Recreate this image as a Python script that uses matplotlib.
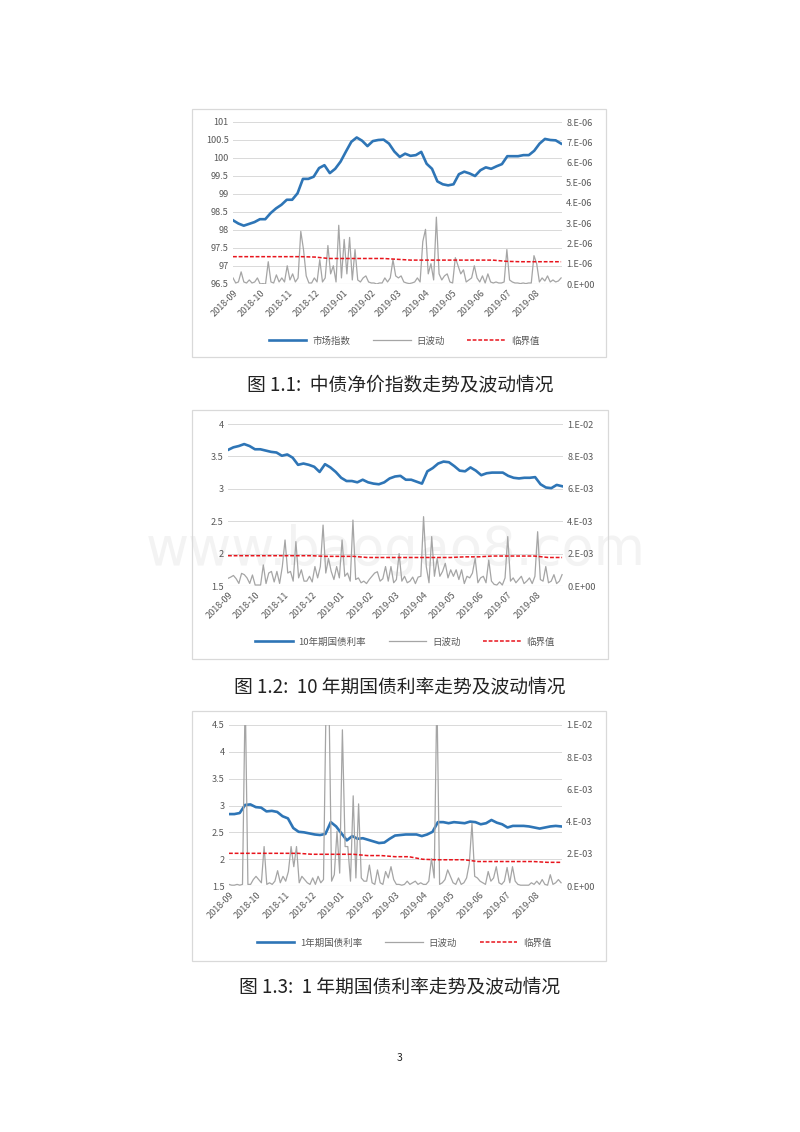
import numpy as np
import pandas as pd
import matplotlib
matplotlib.use("Agg")
import matplotlib.pyplot as plt
from matplotlib.patches import Rectangle

plt.rcParams['font.family'] = ['Noto Sans CJK SC', 'DejaVu Sans']

# ---- data ----
months = pd.date_range('2018-09-01', '2019-08-01', freq='MS')
month_labels = [d.strftime('%Y-%m') for d in months]

# chart 1: 中债净价指数
idx_level = [98.27, 98.18, 98.12, 98.17, 98.22, 98.30, 98.30, 98.47, 98.60, 98.70,
             98.84, 98.84, 99.02, 99.42, 99.42, 99.48, 99.72, 99.80, 99.58, 99.70,
             99.90, 100.18, 100.45, 100.57, 100.48, 100.33, 100.47, 100.50, 100.51, 100.40,
             100.18, 100.03, 100.12, 100.06, 100.08, 100.17, 99.84, 99.70, 99.35, 99.27,
             99.24, 99.27, 99.55, 99.62, 99.57, 99.50, 99.66, 99.74, 99.70, 99.77,
             99.83, 100.05, 100.05, 100.05, 100.08, 100.08, 100.20, 100.40, 100.53, 100.50,
             100.49, 100.40]
idx_vol = [0.3, 0.05, 0.1, 0.6, 0.1, 0.05, 0.2, 0.05, 0.1, 0.3,
           0.0, 0.02, 0.0, 1.1, 0.1, 0.05, 0.45, 0.1, 0.3, 0.1,
           0.9, 0.2, 0.5, 0.1, 0.3, 2.6, 1.7, 0.4, 0.05, 0.05,
           0.3, 0.1, 1.2, 0.1, 0.3, 1.9, 0.5, 0.9, 0.1, 2.9,
           0.3, 2.2, 0.5, 2.3, 0.2, 1.7, 0.2, 0.1, 0.3, 0.4,
           0.1, 0.05, 0.05, 0.0, 0.05, 0.05, 0.3, 0.1, 0.3, 1.2,
           0.4, 0.3, 0.4, 0.1, 0.05, 0.02, 0.05, 0.1, 0.3, 0.1,
           2.1, 2.7, 0.5, 1.0, 0.2, 3.3, 0.5, 0.2, 0.4, 0.5,
           0.1, 0.05, 1.3, 0.9, 0.5, 0.7, 0.1, 0.2, 0.3, 0.9,
           0.3, 0.1, 0.4, 0.05, 0.5, 0.1, 0.05, 0.1, 0.05, 0.05,
           0.1, 1.7, 0.2, 0.1, 0.05, 0.05, 0.02, 0.05, 0.02, 0.05,
           0.05, 1.4, 1.0, 0.1, 0.3, 0.15, 0.4, 0.1, 0.2, 0.1,
           0.15, 0.3]
idx_thr = [1.35, 1.35, 1.35, 1.35, 1.35, 1.35, 1.33, 1.26, 1.26, 1.26,
           1.26, 1.26, 1.22, 1.18, 1.18, 1.18, 1.18, 1.18, 1.18, 1.18,
           1.12, 1.10, 1.10, 1.10, 1.10]

# chart 2: 10年期国债利率
y10_level = [3.60, 3.64, 3.66, 3.69, 3.66, 3.61, 3.61, 3.59, 3.57, 3.56,
             3.51, 3.53, 3.48, 3.37, 3.39, 3.37, 3.34, 3.26, 3.38, 3.33,
             3.26, 3.17, 3.12, 3.12, 3.10, 3.14, 3.10, 3.08, 3.07, 3.10,
             3.16, 3.19, 3.20, 3.14, 3.14, 3.11, 3.08, 3.27, 3.32, 3.39,
             3.42, 3.41, 3.35, 3.28, 3.27, 3.33, 3.28, 3.21, 3.24, 3.25,
             3.25, 3.25, 3.20, 3.17, 3.16, 3.17, 3.17, 3.18, 3.07, 3.02,
             3.01, 3.06, 3.04]
y10_vol = [0.47, 0.55, 0.65, 0.45, 0.16, 0.78, 0.70, 0.50, 0.16, 0.68,
           0.06, 0.06, 0.06, 1.30, 0.15, 0.80, 0.90, 0.25, 0.90, 0.16,
           1.20, 2.84, 0.80, 0.90, 0.30, 2.74, 0.50, 1.00, 0.30, 0.30,
           0.60, 0.25, 1.20, 0.50, 1.20, 3.76, 0.80, 1.70, 0.90, 0.40,
           1.20, 0.50, 2.84, 0.60, 0.80, 0.30, 4.07, 0.40, 0.50, 0.20,
           0.30, 0.15, 0.40, 0.60, 0.80, 0.88, 0.30, 0.45, 1.20, 0.30,
           1.20, 0.20, 0.40, 2.00, 0.30, 0.60, 0.20, 0.30, 0.55, 0.15,
           0.55, 0.60, 4.28, 1.20, 0.20, 3.05, 0.60, 1.70, 0.60, 0.90,
           1.40, 0.50, 1.00, 0.60, 1.00, 0.40, 1.00, 0.15, 0.60, 0.50,
           0.80, 1.70, 0.20, 0.50, 0.60, 0.20, 1.60, 0.30, 0.10, 0.06,
           0.25, 0.06, 0.50, 3.05, 0.30, 0.50, 0.20, 0.40, 0.60, 0.15,
           0.30, 0.50, 0.15, 0.60, 3.35, 0.40, 0.30, 1.20, 0.20, 0.30,
           0.70, 0.15, 0.30, 0.70]
y10_thr = [1.87, 1.87, 1.87, 1.87, 1.87, 1.87, 1.87, 1.83, 1.83, 1.83,
           1.76, 1.76, 1.76, 1.76, 1.76, 1.76, 1.76, 1.80, 1.80, 1.85,
           1.85, 1.85, 1.85, 1.76, 1.76]

# chart 3: 1年期国债利率
y1_level = [2.84, 2.84, 2.86, 3.01, 3.02, 2.97, 2.96, 2.89, 2.90, 2.88,
            2.80, 2.76, 2.58, 2.51, 2.50, 2.48, 2.46, 2.45, 2.47, 2.69,
            2.61, 2.48, 2.35, 2.43, 2.38, 2.39, 2.36, 2.33, 2.30, 2.31,
            2.38, 2.44, 2.45, 2.46, 2.46, 2.46, 2.43, 2.46, 2.51, 2.69,
            2.69, 2.67, 2.69, 2.68, 2.67, 2.70, 2.69, 2.65, 2.67, 2.73,
            2.68, 2.65, 2.59, 2.62, 2.62, 2.62, 2.61, 2.59, 2.57, 2.59,
            2.61, 2.62, 2.61]
y1_vol = [0.1, 0.05, 0.05, 0.1, 0.05, 0.1, 12.0, 0.1, 0.1, 0.4,
          0.6, 0.4, 0.2, 2.45, 0.1, 0.2, 0.1, 0.3, 0.95, 0.2,
          0.6, 0.3, 0.9, 2.45, 1.2, 2.45, 0.2, 0.6, 0.4, 0.2,
          0.1, 0.5, 0.1, 0.6, 0.2, 0.4, 12.0, 12.0, 0.3, 0.7,
          3.4, 0.8, 9.7, 2.45, 2.45, 0.3, 5.6, 0.5, 5.1, 0.5,
          0.3, 0.3, 1.3, 0.2, 0.1, 1.0, 0.2, 0.1, 0.9, 0.5,
          1.2, 0.4, 0.1, 0.1, 0.05, 0.1, 0.3, 0.1, 0.2, 0.3,
          0.1, 0.2, 0.1, 0.1, 0.3, 1.7, 0.5, 12.0, 0.1, 0.2,
          0.4, 1.0, 0.6, 0.2, 0.1, 0.5, 0.1, 0.2, 0.5, 1.4,
          3.9, 0.6, 0.5, 0.3, 0.2, 0.1, 0.9, 0.3, 0.5, 1.2,
          0.2, 0.1, 0.3, 1.15, 0.2, 1.2, 0.3, 0.1, 0.05, 0.05,
          0.05, 0.05, 0.2, 0.1, 0.3, 0.1, 0.4, 0.1, 0.05, 0.7,
          0.1, 0.2, 0.4, 0.2]
y1_thr = [2.03, 2.03, 2.03, 2.03, 2.03, 2.03, 1.97, 1.97, 1.97, 1.97,
          1.89, 1.89, 1.82, 1.82, 1.66, 1.63, 1.63, 1.63, 1.52, 1.52,
          1.52, 1.52, 1.52, 1.47, 1.47]

charts = [
    dict(level=idx_level, vol=idx_vol, thr=idx_thr, vscale=1e-6,
         name='市场指数', ylim=(96.5, 101), yticks=[96.5, 97, 97.5, 98, 98.5, 99, 99.5, 100, 100.5, 101],
         ylabels=['96.5', '97', '97.5', '98', '98.5', '99', '99.5', '100', '100.5', '101'],
         rlim=(0, 8e-6), rticks=[0, 1e-6, 2e-6, 3e-6, 4e-6, 5e-6, 6e-6, 7e-6, 8e-6],
         rlabels=['0.E+00', '1.E-06', '2.E-06', '3.E-06', '4.E-06', '5.E-06', '6.E-06', '7.E-06', '8.E-06'],
         caption='图 1.1:  中债净价指数走势及波动情况'),
    dict(level=y10_level, vol=y10_vol, thr=y10_thr, vscale=1e-3,
         name='10年期国债利率', ylim=(1.5, 4), yticks=[1.5, 2, 2.5, 3, 3.5, 4],
         ylabels=['1.5', '2', '2.5', '3', '3.5', '4'],
         rlim=(0, 1e-2), rticks=[0, 2e-3, 4e-3, 6e-3, 8e-3, 1e-2],
         rlabels=['0.E+00', '2.E-03', '4.E-03', '6.E-03', '8.E-03', '1.E-02'],
         caption='图 1.2:  10 年期国债利率走势及波动情况'),
    dict(level=y1_level, vol=y1_vol, thr=y1_thr, vscale=1e-3,
         name='1年期国债利率', ylim=(1.5, 4.5), yticks=[1.5, 2, 2.5, 3, 3.5, 4, 4.5],
         ylabels=['1.5', '2', '2.5', '3', '3.5', '4', '4.5'],
         rlim=(0, 1e-2), rticks=[0, 2e-3, 4e-3, 6e-3, 8e-3, 1e-2],
         rlabels=['0.E+00', '2.E-03', '4.E-03', '6.E-03', '8.E-03', '1.E-02'],
         caption='图 1.3:  1 年期国债利率走势及波动情况'),
]

W, H = 800, 1132
fig = plt.figure(figsize=(8, 11.32), dpi=100)

# pixel layout: box (l, t, r, b), axes (l, t, r, b), legend y, caption y
layout = [
    ((192, 109, 606, 357), (233, 122, 562, 284), 341, 385),
    ((192, 410, 608, 659), (228, 424, 563, 586), 642, 687),
    ((192, 711, 606, 961), (229, 725, 562, 886), 943, 987),
]

start, end = pd.Timestamp('2018-09-01'), pd.Timestamp('2019-08-29')
xlim = (pd.Timestamp('2018-09-01'), pd.Timestamp('2019-08-30'))
grey_txt = '#595959'
blue = '#2e75b6'
grey = '#a5a5a5'
red = '#e8141c'

for i, (c, (box, axr, leg_y, cap_y)) in enumerate(zip(charts, layout)):
    bl, bt, br, bb = box
    fig.patches.append(Rectangle((bl / W, 1 - bb / H), (br - bl) / W, (bb - bt) / H,
                                 transform=fig.transFigure, fill=False,
                                 edgecolor='#d9d9d9', linewidth=0.9))
    al, at, ar, ab = axr
    ax = fig.add_axes([al / W, 1 - ab / H, (ar - al) / W, (ab - at) / H])
    ax2 = ax.twinx()

    d_level = pd.date_range(start, end, periods=len(c['level']))
    d_vol = pd.date_range(start, end, periods=len(c['vol']))
    d_thr = pd.date_range(start, end, periods=len(c['thr']))

    vol = np.array(c['vol']) * c['vscale']
    thr = np.array(c['thr']) * c['vscale']
    l1, = ax.plot(d_level, c['level'], color=blue, lw=1.9, zorder=3)
    l2, = ax2.plot(d_vol, vol, color=grey, lw=0.9, zorder=2)
    l3, = ax2.plot(d_thr, thr, color=red, lw=1.1, ls=(0, (2.5, 1.2)), zorder=3)

    ax.set_xlim(*xlim)
    ax.set_ylim(*c['ylim'])
    ax2.set_ylim(*c['rlim'])
    ax.set_yticks(c['yticks'])
    ax.set_yticklabels(c['ylabels'])
    ax2.set_yticks(c['rticks'])
    ax2.set_yticklabels(c['rlabels'])
    ax.set_xticks(months)
    ax.set_xticklabels(month_labels, rotation=45, ha='right', rotation_mode='anchor')

    ax.grid(axis='y', color='#d9d9d9', lw=0.7)
    ax.set_axisbelow(True)
    for a in (ax, ax2):
        for s in ('top', 'left', 'right', 'bottom'):
            a.spines[s].set_visible(False)
        a.tick_params(length=0, labelsize=6.6, labelcolor=grey_txt, pad=3)
    ax.axhline(c['ylim'][0], color='#bfbfbf', lw=0.8, zorder=1)

    if i == 1:
        ax.text(0.5, 0.22, 'www.baogao8.com', transform=ax.transAxes, fontsize=38,
                color='#f3f3f3', ha='center', va='center', zorder=0, family='DejaVu Sans')

    fig.legend([l1, l2, l3], [c['name'], '日波动', '临界值'], loc='center',
               bbox_to_anchor=(((bl + br) / 2 + 5) / W, 1 - leg_y / H), ncol=3, frameon=False,
               fontsize=6.8, labelcolor=grey_txt, handlelength=4.0, columnspacing=2.4,
               handletextpad=0.6)

    fig.text(400 / W, 1 - cap_y / H, c['caption'], ha='center', va='center',
             fontsize=13.5, color='#222222')

fig.text(400 / W, 1 - 1058 / H, '3', ha='center', va='center', fontsize=7.5, color='#222222')

fig.savefig('out.png', dpi=100, facecolor='white')
